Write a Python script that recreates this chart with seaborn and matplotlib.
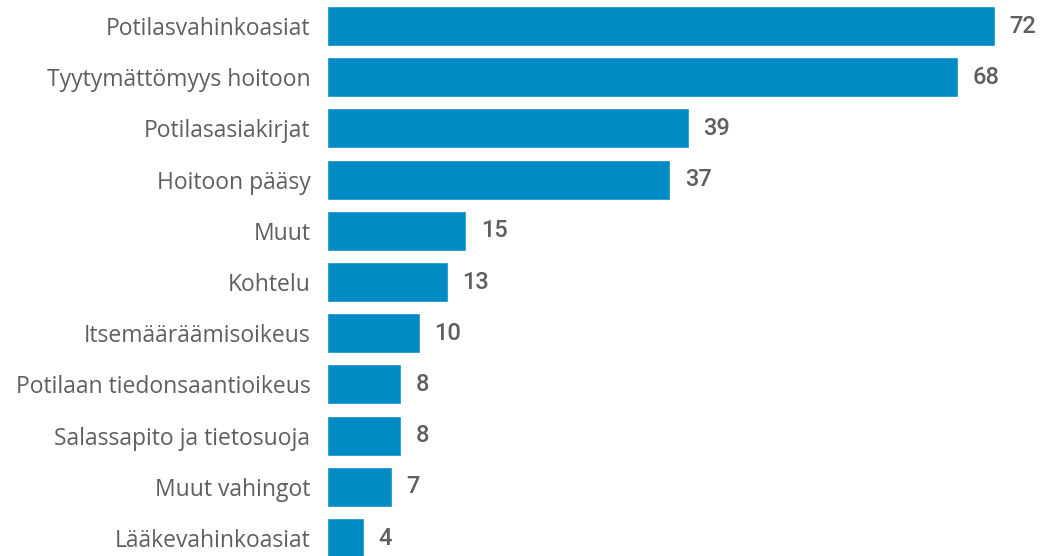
import matplotlib
matplotlib.use("Agg")
import matplotlib.pyplot as plt
import seaborn as sns
import pandas as pd

# ─────────────────────────────────────────────
# 데이터
# ─────────────────────────────────────────────
categories = [
    "Potilasvahinkoasiat",
    "Tyytymättömyys hoitoon",
    "Potilasasiakirjat",
    "Hoitoon pääsy",
    "Muut",
    "Kohtelu",
    "Itsemääräämisoikeus",
    "Potilaan tiedonsaantioikeus",
    "Salassapito ja tietosuoja",
    "Muut vahingot",
    "Lääkevahinkoasiat",
]
values = [72, 68, 39, 37, 15, 13, 10, 8, 8, 7, 4]

BAR_COLOR = "#008BC4"
TEXT_COLOR = "#5f5f5f"

sns.set_style("white")
plt.rcParams["font.family"] = ["Open Sans", "DejaVu Sans"]

df = pd.DataFrame({"cat": categories, "val": values})

fig = plt.figure(figsize=(10.43, 5.56), dpi=100)
ax = fig.add_axes([327 / 1043, 0, (1043 - 327) / 1043, 1])

sns.barplot(data=df, x="val", y="cat", orient="h", color=BAR_COLOR,
            width=0.78, saturation=1, ax=ax)

ax.set_xlim(0, 77.2)
ax.set_ylim(10.35, -0.508)

for c in ax.containers:
    ax.bar_label(c, padding=10.5, fontsize=17, color=TEXT_COLOR,
                 family=["Roboto", "DejaVu Sans"], fontweight="medium")

ax.set_xlabel("")
ax.set_ylabel("")
ax.set_xticks([])
ax.tick_params(axis="y", length=0, pad=12, labelsize=16.5, labelcolor=TEXT_COLOR)
sns.despine(ax=ax, left=True, bottom=True)

plt.savefig("out.png", dpi=100)
plt.close()
